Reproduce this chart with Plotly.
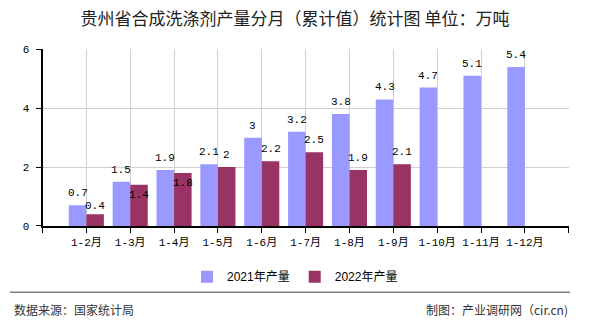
import plotly.graph_objects as go

categories = ["1-2月", "1-3月", "1-4月", "1-5月", "1-6月", "1-7月", "1-8月", "1-9月", "1-10月", "1-11月", "1-12月"]
values_2021 = [0.7, 1.5, 1.9, 2.1, 3, 3.2, 3.8, 4.3, 4.7, 5.1, 5.4]
values_2022 = [0.4, 1.4, 1.8, 2, 2.2, 2.5, 1.9, 2.1]
series_names = ["2021年产量", "2022年产量"]
y_ticks = [0, 2, 4, 6]

title_text = "贵州省合成洗涤剂产量分月（累计值）统计图 单位：万吨"
source_text = "数据来源：国家统计局"
credit_text = "制图：产业调研网（cir.cn)"

W, H = 590, 330
BLUE = "#9999FF"
RED = "#993366"
MONO = "Liberation Mono, DejaVu Sans Mono, Noto Sans CJK SC, monospace"
CJK = "Noto Sans CJK SC, sans-serif"

# plot area in pixels
x0, x1 = 42.5, 568.7
y_top, y_bot = 46, 229.3

n = len(categories)
xpos = list(range(1, n + 1))
bw = 0.4

fig = go.Figure()
fig.add_trace(go.Bar(x=xpos, y=values_2021, name=series_names[0], marker_color=BLUE,
                     width=bw, offset=-bw, marker_line_width=0))
fig.add_trace(go.Bar(x=xpos[:len(values_2022)], y=values_2022, name=series_names[1],
                     marker_color=RED, width=bw, offset=0, marker_line_width=0))

annotations = []
label_font = dict(family=MONO, size=11, color="#000")
for i, v in enumerate(values_2021):
    annotations.append(dict(x=xpos[i] - bw / 2, y=v, xref="x", yref="y", text=f"{v:g}",
                            showarrow=False, yanchor="bottom", yshift=4, font=label_font))
# labels that collide with the neighbouring 2021 label are pushed down
pushed = {0: ("bottom", 0), 1: ("top", -2), 2: ("top", -2)}
for i, v in enumerate(values_2022):
    anchor, shift = pushed.get(i, ("bottom", 4))
    annotations.append(dict(x=xpos[i] + bw / 2, y=v, xref="x", yref="y", text=f"{v:g}",
                            showarrow=False, yanchor=anchor, yshift=shift, font=label_font))

annotations.append(dict(x=12 / W, y=1 - 316.5 / H, xref="paper", yref="paper", text=source_text,
                        showarrow=False, xanchor="left", yanchor="middle",
                        font=dict(family=CJK, size=12, color="#333")))
annotations.append(dict(x=570 / W, y=1 - 316.5 / H, xref="paper", yref="paper", text=credit_text,
                        showarrow=False, xanchor="right", yanchor="middle",
                        font=dict(family=CJK, size=12, color="#333")))

fig.update_layout(
    width=W, height=H,
    margin=dict(l=0, r=0, t=0, b=0),
    paper_bgcolor="white", plot_bgcolor="white",
    barmode="overlay",
    title=dict(text=title_text, x=0.5, xanchor="center", y=1 - 19 / H, yanchor="middle",
               font=dict(family=CJK, size=17, color="#222")),
    xaxis=dict(domain=[x0 / W, x1 / W], range=[0, n + 1],
               tickvals=list(range(0, n + 2)), ticktext=[""] + categories + [""],
               showgrid=True, gridcolor="#d0d0d0", gridwidth=1,
               showline=True, linecolor="#000", linewidth=2,
               ticks="outside", ticklen=5, tickcolor="#000", tickwidth=1,
               tickfont=dict(family=MONO, size=11, color="#000"), zeroline=False,
               fixedrange=True),
    yaxis=dict(domain=[1 - y_bot / H, 1 - y_top / H], range=[0, 6], tickvals=y_ticks,
               showgrid=True, gridcolor="#d0d0d0", gridwidth=1,
               showline=True, linecolor="#000", linewidth=2,
               ticks="outside", ticklen=5, tickcolor="#000", tickwidth=1,
               ticklabelstandoff=4,
               tickfont=dict(family=MONO, size=11, color="#000"), zeroline=False,
               fixedrange=True),
    legend=dict(orientation="h", x=0.5, xanchor="center", y=1 - 282 / H, yanchor="middle",
                font=dict(family="Liberation Sans, Noto Sans CJK SC, sans-serif", size=12, color="#000"),
                bgcolor="rgba(0,0,0,0)"),
    shapes=[dict(type="line", xref="paper", yref="paper", x0=10 / W, x1=570 / W,
                 y0=1 - 298 / H, y1=1 - 298 / H, line=dict(color="#808080", width=1.5))],
    annotations=annotations,
    showlegend=True,
)

fig.write_html("out.html")
